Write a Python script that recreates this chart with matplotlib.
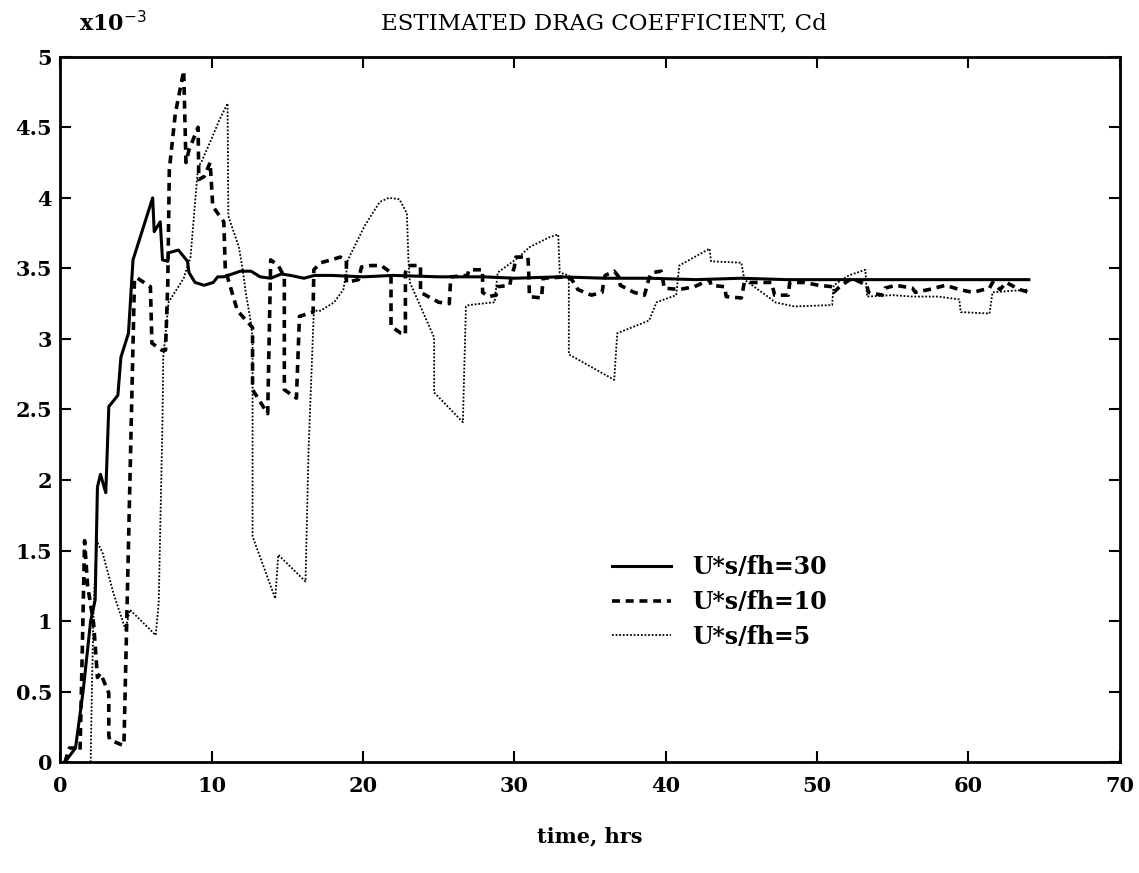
import matplotlib.pyplot as plt

# time (hrs) and Cd (x1e-3)
t30 = [0.3, 1.0, 1.5, 2.0, 2.3, 2.45, 2.65, 3.0, 3.1, 3.2, 3.8, 4.0, 4.5, 4.8, 6.1, 6.2, 6.6, 6.75,
       7.1, 7.15, 7.8, 8.4, 8.5, 8.9, 9.5, 10.1, 10.4, 10.8, 11.9, 12.6, 13.2, 13.9, 14.6, 15.2,
       16.1, 16.8, 17.9, 20, 22, 25, 28, 30, 33, 36, 39, 42, 45, 48, 51, 54, 57, 60, 64]
cd30 = [0, 0.1, 0.5, 1.0, 1.15, 1.95, 2.04, 1.91, 2.21, 2.52, 2.6, 2.87, 3.04, 3.56, 4.0, 3.76, 3.83, 3.56,
        3.55, 3.61, 3.63, 3.55, 3.47, 3.40, 3.38, 3.40, 3.44, 3.44, 3.48, 3.48, 3.44, 3.43, 3.46, 3.45,
        3.43, 3.45, 3.45, 3.44, 3.45, 3.44, 3.44, 3.43, 3.44, 3.43, 3.43, 3.42, 3.43, 3.42, 3.42, 3.42, 3.42, 3.42, 3.42]

t10 = [0.3, 0.6, 1.0, 1.3, 1.45, 1.6, 1.8, 2.2, 2.45, 2.65, 3.2, 3.2, 3.25, 4.1, 4.2, 4.9, 5.1, 5.95, 6.05,
       6.7, 6.95, 7.1, 7.2, 7.6, 8.15, 8.3, 8.5, 9.1, 9.15, 9.5, 9.9, 10.07, 10.8, 10.9, 11.7, 12.7, 12.7,
       13.7, 13.9, 14.4, 14.8, 14.8, 15.6, 15.8, 16.7, 16.75, 17.2, 17.9, 18.5, 18.9, 18.9, 19.7, 19.9,
       20.5, 21.2, 21.85, 21.85, 22.5, 22.8, 22.8, 23.0, 23.8, 23.8, 25.0, 25.7, 25.8, 26.9, 27.0, 27.9,
       27.9, 28.3, 28.8, 28.9, 29.7, 29.8, 30.0, 30.1, 30.9, 30.95, 31.0, 31.8, 31.9, 33.5, 33.8, 34.2,
       35.1, 35.8, 35.9, 36.0, 36.6, 36.9, 37.0, 37.9, 38.6, 38.9, 39.1, 39.7, 39.8, 39.9, 40.9, 41.9,
       42.9, 43.0, 43.9, 44.0, 45.0, 45.2, 47.0, 47.2, 48.1, 48.2, 49.2, 50.1, 51.0, 51.1, 51.5, 52.3,
       53.3, 53.4, 54.3, 54.5, 55.2, 56.3, 56.5, 57.4, 58.5, 59.4, 60.3, 61.4, 61.6, 62.1, 62.5, 63.4, 64.0]
cd10 = [0.0, 0.1, 0.1, 0.08, 0.8, 1.57, 1.25, 0.98, 0.6, 0.63, 0.49, 0.19, 0.16, 0.12, 0.12, 3.43, 3.43, 3.37, 2.97,
        2.92, 2.92, 3.4, 4.2, 4.6, 4.9, 4.25, 4.34, 4.5, 4.13, 4.15, 4.25, 3.94, 3.83, 3.49, 3.2, 3.08, 2.64,
        2.47, 3.56, 3.52, 3.44, 2.64, 2.58, 3.16, 3.19, 3.49, 3.54, 3.56, 3.58, 3.56, 3.40, 3.42, 3.51,
        3.52, 3.52, 3.47, 3.09, 3.04, 3.03, 3.47, 3.52, 3.52, 3.33, 3.26, 3.25, 3.44, 3.45, 3.49, 3.49,
        3.33, 3.30, 3.31, 3.37, 3.38, 3.44, 3.51, 3.58, 3.58, 3.47, 3.30, 3.29, 3.43, 3.44, 3.42, 3.35,
        3.31, 3.33, 3.40, 3.45, 3.48, 3.44, 3.38, 3.33, 3.31, 3.43, 3.47, 3.48, 3.43, 3.36, 3.35, 3.37,
        3.42, 3.38, 3.37, 3.30, 3.29, 3.40, 3.40, 3.31, 3.31, 3.40, 3.40, 3.38, 3.37, 3.33, 3.37, 3.43,
        3.38, 3.33, 3.31, 3.36, 3.38, 3.36, 3.33, 3.35, 3.38, 3.35, 3.33, 3.36, 3.40, 3.35, 3.40, 3.35, 3.33]

t5 = [2.0, 2.1, 2.2, 2.4, 2.8, 3.5, 4.3, 4.6, 6.3, 6.5, 6.75, 6.8, 7.15, 8.15, 8.6, 9.1, 9.3, 10.0, 10.5,
      11.05, 11.1, 11.8, 12.05, 12.25, 12.6, 12.7, 12.7, 14.2, 14.4, 16.2, 16.4, 16.75, 17.2, 18.1, 18.7,
      18.9, 19.0, 20.1, 21.1, 21.7, 22.4, 22.9, 23.0, 23.1, 24.7, 24.7, 26.6, 26.8, 27.0, 28.7, 28.9,
      30.3, 31.0, 32.3, 32.9, 33.0, 33.6, 33.6, 36.6, 36.8, 38.9, 39.4, 40.7, 40.9, 42.9, 43.0, 45.0,
      45.2, 47.0, 47.2, 48.5, 51.0, 51.1, 52.1, 53.2, 53.3, 55.0, 56.3, 58.0, 59.4, 59.5, 61.4, 61.6, 64.0]
cd5 = [0, 0.6, 1.1, 1.57, 1.48, 1.2, 0.94, 1.08, 0.90, 1.13, 2.43, 2.87, 3.26, 3.43, 3.58, 4.22, 4.25, 4.42, 4.55,
       4.67, 3.87, 3.65, 3.49, 3.33, 3.11, 3.01, 1.6, 1.16, 1.47, 1.28, 2.21, 3.2, 3.2, 3.26, 3.35,
       3.47, 3.56, 3.8, 3.97, 4.0, 3.99, 3.89, 3.56, 3.40, 3.01, 2.62, 2.41, 3.23, 3.24, 3.26, 3.47,
       3.58, 3.65, 3.72, 3.74, 3.47, 3.45, 2.89, 2.71, 3.04, 3.13, 3.26, 3.31, 3.52, 3.64, 3.55, 3.54,
       3.42, 3.28, 3.26, 3.23, 3.24, 3.38, 3.45, 3.49, 3.30, 3.31, 3.30, 3.30, 3.28, 3.19, 3.18, 3.33, 3.35]

labels = ['U*s/fh=30', 'U*s/fh=10', 'U*s/fh=5']
xticks = [0, 10, 20, 30, 40, 50, 60, 70]
yticks = [0, 0.5, 1, 1.5, 2, 2.5, 3, 3.5, 4, 4.5, 5]
ytick_labels = ['0', '0.5', '1', '1.5', '2', '2.5', '3', '3.5', '4', '4.5', '5']

plt.rcParams['font.family'] = ['DejaVu Serif']

fig = plt.figure(figsize=(11.39, 8.73), dpi=100)
ax = fig.add_axes([0.053, 0.127, 0.93, 0.808])

ax.plot(t30, cd30, color='black', lw=2.2, ls='-', label=labels[0])
ax.plot(t10, cd10, color='black', lw=2.6, ls=(0, (2.2, 1.6)), label=labels[1])
ax.plot(t5, cd5, color='black', lw=1.3, ls=(0, (1, 1)), label=labels[2])

ax.set_xlim(0, 70)
ax.set_ylim(0, 5)
ax.set_xticks(xticks)
ax.set_xticklabels([str(x) for x in xticks])
ax.set_yticks(yticks)
ax.set_yticklabels(ytick_labels)
ax.tick_params(direction='in', length=8, width=1.5, top=True, right=True, labelsize=15)
ax.tick_params(axis='x', pad=10)
ax.tick_params(axis='y', pad=6)
for lab in ax.get_xticklabels() + ax.get_yticklabels():
    lab.set_fontweight('bold')
for sp in ax.spines.values():
    sp.set_linewidth(2)

ax.set_xlabel('time, hrs', fontsize=15, fontweight='bold', labelpad=22)
fig.text(0.53, 0.973, 'ESTIMATED DRAG COEFFICIENT, Cd', fontsize=16.5, ha='center', va='center')
fig.text(0.069, 0.973, 'x10$^{-3}$', fontsize=16, ha='left', va='center', fontweight='bold')

leg = ax.legend(loc='upper left', bbox_to_anchor=(0.51, 0.31), frameon=False, fontsize=17,
                handlelength=2.5, handletextpad=0.9, labelspacing=0.45, borderpad=0)
for txt in leg.get_texts():
    txt.set_fontweight('bold')

fig.savefig('out.png', dpi=100)
